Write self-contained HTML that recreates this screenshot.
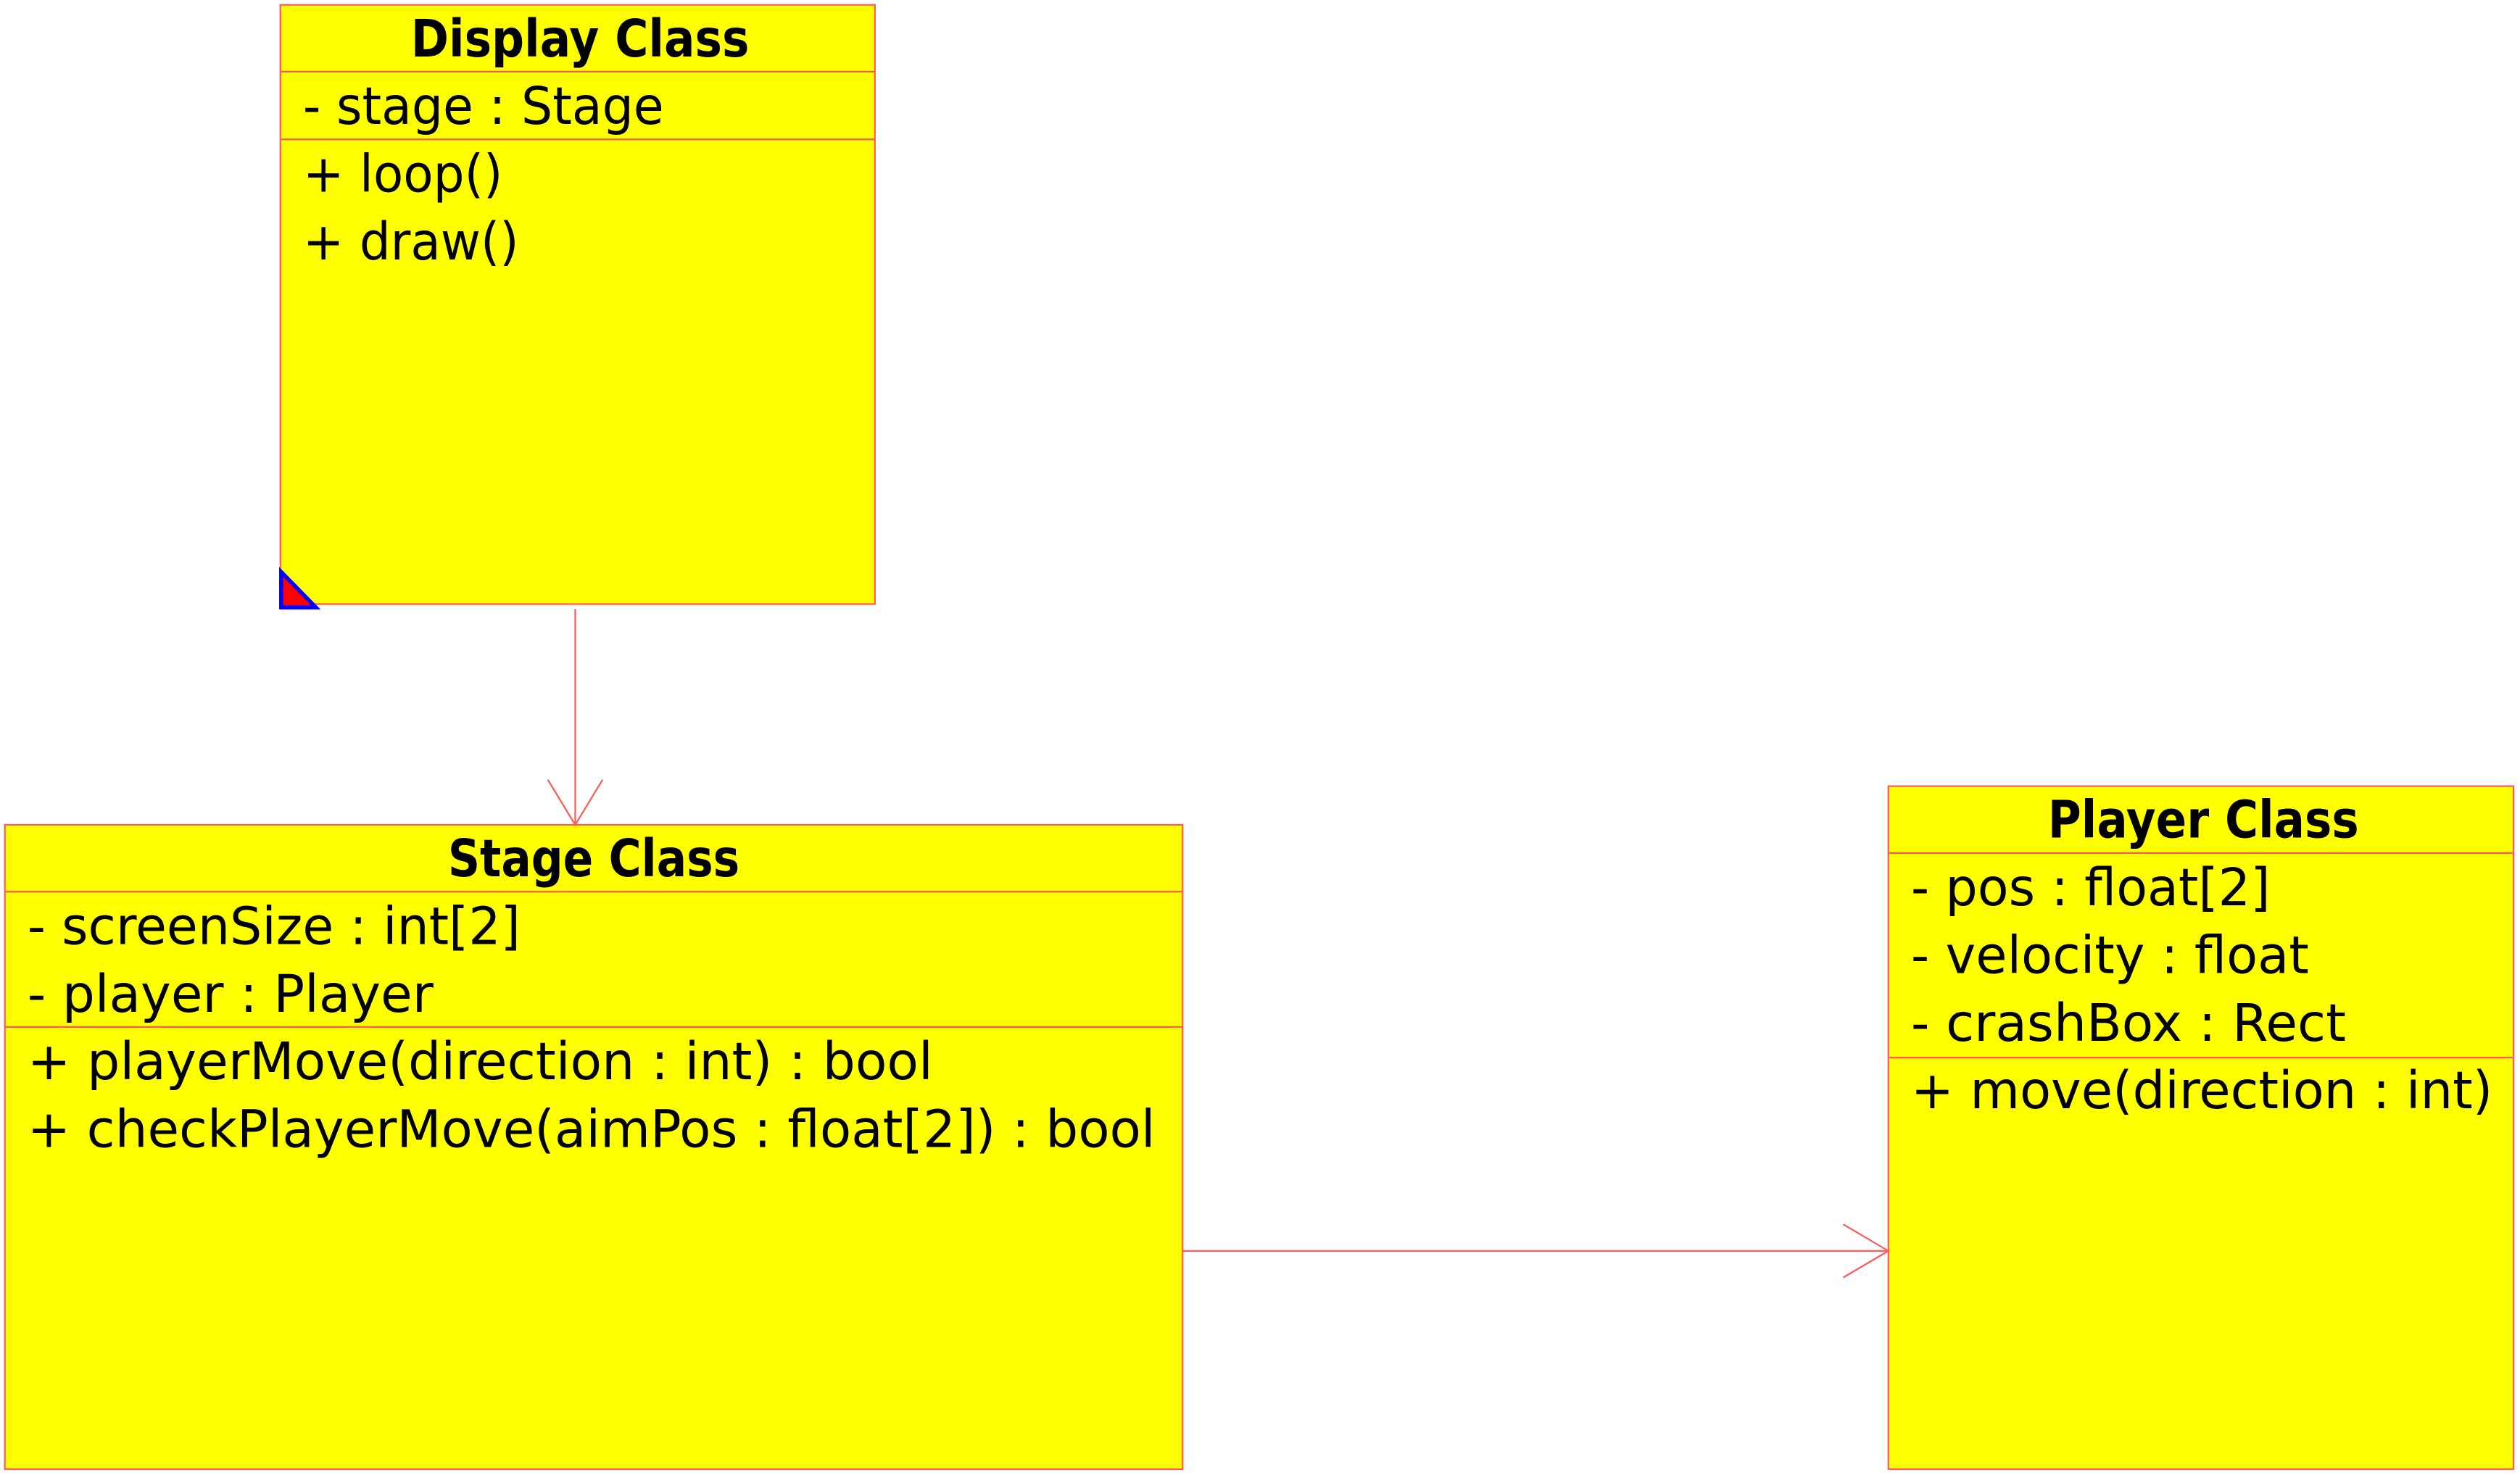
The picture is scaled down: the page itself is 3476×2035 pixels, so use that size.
<!DOCTYPE html>
<html><head><meta charset="utf-8"><style>
html,body{margin:0;padding:0;background:#fff;}
svg{display:block;}
text{font-family:"DejaVu Sans","Liberation Sans",sans-serif;font-size:32px;fill:#000;}
.t{font-weight:bold;}
</style></head><body>
<svg width="3476" height="2035" viewBox="0 0 1564 915.6" preserveAspectRatio="none" xmlns="http://www.w3.org/2000/svg">
<rect width="1564" height="915.6" fill="#fff"/>
<!-- Display Class -->
<rect x="174" y="3" width="369" height="372" fill="#ffff00" stroke="#ff5a5a" stroke-width="1"/>
<line x1="174" y1="44.5" x2="543" y2="44.5" stroke="#ff5a5a"/>
<line x1="174" y1="86.5" x2="543" y2="86.5" stroke="#ff5a5a"/>
<text class="t" x="255" y="35" textLength="210" lengthAdjust="spacingAndGlyphs">Display Class</text>
<text x="188" y="77" textLength="224" lengthAdjust="spacingAndGlyphs">- stage : Stage</text>
<text x="188" y="119" textLength="124" lengthAdjust="spacingAndGlyphs">+ loop()</text>
<text x="188" y="161" textLength="134" lengthAdjust="spacingAndGlyphs">+ draw()</text>
<polygon points="174.5,355 174.5,377 196,377" fill="#ff0000" stroke="#0000ff" stroke-width="2.5"/>
<!-- Stage Class -->
<rect x="3" y="512" width="731" height="400" fill="#ffff00" stroke="#ff5a5a" stroke-width="1"/>
<line x1="3" y1="553.5" x2="734" y2="553.5" stroke="#ff5a5a"/>
<line x1="3" y1="637.5" x2="734" y2="637.5" stroke="#ff5a5a"/>
<text class="t" x="278" y="544" textLength="181" lengthAdjust="spacingAndGlyphs">Stage Class</text>
<text x="17" y="586" textLength="306" lengthAdjust="spacingAndGlyphs">- screenSize : int[2]</text>
<text x="17" y="628" textLength="252" lengthAdjust="spacingAndGlyphs">- player : Player</text>
<text x="17" y="670" textLength="562" lengthAdjust="spacingAndGlyphs">+ playerMove(direction : int) : bool</text>
<text x="17" y="712" textLength="700" lengthAdjust="spacingAndGlyphs">+ checkPlayerMove(aimPos : float[2]) : bool</text>
<!-- Player Class -->
<rect x="1172" y="488" width="388" height="424" fill="#ffff00" stroke="#ff5a5a" stroke-width="1"/>
<line x1="1172" y1="529.5" x2="1560" y2="529.5" stroke="#ff5a5a"/>
<line x1="1172" y1="656.5" x2="1560" y2="656.5" stroke="#ff5a5a"/>
<text class="t" x="1271" y="520" textLength="193" lengthAdjust="spacingAndGlyphs">Player Class</text>
<text x="1186" y="562" textLength="223" lengthAdjust="spacingAndGlyphs">- pos : float[2]</text>
<text x="1186" y="604" textLength="247" lengthAdjust="spacingAndGlyphs">- velocity : float</text>
<text x="1186" y="646" textLength="270" lengthAdjust="spacingAndGlyphs">- crashBox : Rect</text>
<text x="1186" y="688" textLength="361" lengthAdjust="spacingAndGlyphs">+ move(direction : int)</text>
<!-- connectors -->
<g stroke="#ff5a5a" stroke-width="1" fill="none">
<line x1="357" y1="378" x2="357" y2="512"/>
<polyline points="340,484 357,512 374,484"/>
<line x1="734" y1="776.5" x2="1172" y2="776.5"/>
<polyline points="1144,760 1172,776.5 1144,793"/>
</g>
</svg>
</body></html>
